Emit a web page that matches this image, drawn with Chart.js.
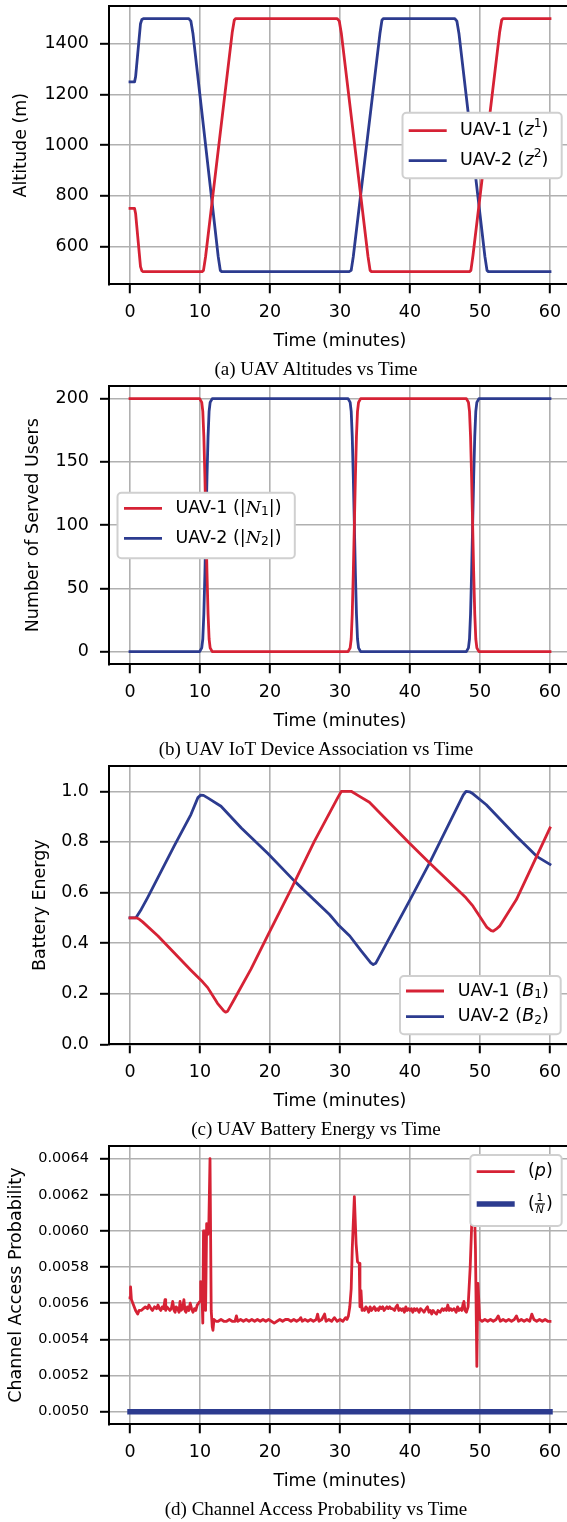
<!DOCTYPE html>
<html>
<head>
<meta charset="utf-8">
<script src="https://cdn.jsdelivr.net/npm/chart.js@4.4.1/dist/chart.umd.min.js"></script>
<style>
  html, body { margin: 0; padding: 0; background: #fff; }
  body { width: 567px; overflow: hidden; }
  .panel { position: relative; width: 567px; height: 380px; overflow: hidden; }
  .panel canvas { position: absolute; left: 0; top: 0; }
  .caption { position: absolute; left: 0; width: 632px; top: 358px; text-align: center;
             font: 19px "Liberation Serif", "Times New Roman", serif; line-height: 22px; color: #000; }
</style>
</head>
<body>
<div class="panel"><canvas id="chartA" width="580" height="380"></canvas><div class="caption">(a) UAV Altitudes vs Time</div></div>
<div class="panel"><canvas id="chartB" width="580" height="380"></canvas><div class="caption">(b) UAV IoT Device Association vs Time</div></div>
<div class="panel"><canvas id="chartC" width="580" height="380"></canvas><div class="caption">(c) UAV Battery Energy vs Time</div></div>
<div class="panel"><canvas id="chartD" width="580" height="380"></canvas><div class="caption">(d) Channel Access Probability vs Time</div></div>

<script>
// ---- Dados ----
const xTicks = [0, 10, 20, 30, 40, 50, 60];

// (a) altitudes
const alt1T = [0, 0.65, 0.8, 1.5, 1.7, 1.9, 10.3, 10.5, 10.8, 14.6, 14.9, 15.1, 29.6, 29.9, 30.2, 34.0, 34.3, 34.5, 48.5, 48.7, 49.0, 52.8, 53.1, 53.3, 60];
const alt1  = [750, 750, 730, 520, 503, 500, 500, 505, 560, 1445, 1495, 1500, 1500, 1490, 1440, 560, 505, 500, 500, 505, 565, 1445, 1495, 1500, 1500];
const alt2T = [0, 0.65, 0.8, 1.5, 1.7, 1.9, 8.4, 8.7, 9.0, 12.6, 12.9, 13.1, 31.3, 31.6, 31.9, 35.7, 36.0, 36.2, 46.4, 46.7, 47.0, 50.7, 51.0, 51.2, 60];
const alt2  = [1250, 1250, 1270, 1480, 1497, 1500, 1500, 1490, 1440, 560, 505, 500, 500, 505, 560, 1440, 1495, 1500, 1500, 1490, 1440, 560, 505, 500, 500];
const altTicks = [600, 800, 1000, 1200, 1400];

// (b) usuarios atendidos
const usersT = [0, 9.95, 10.25, 10.4, 10.55, 10.7, 10.85, 11.0, 11.15, 11.3, 11.45, 11.75,
                31.15, 31.45, 31.6, 31.75, 31.9, 32.05, 32.2, 32.35, 32.5, 32.65, 32.95,
                48.05, 48.35, 48.5, 48.65, 48.8, 48.95, 49.1, 49.25, 49.4, 49.55, 49.85, 60];
const users1 = [200, 200, 197, 190, 170, 138, 100, 62, 30, 10, 3, 0,
                0, 3, 10, 30, 62, 100, 138, 170, 190, 197, 200,
                200, 197, 190, 170, 138, 100, 62, 30, 10, 3, 0, 0];
const users2 = [0, 0, 3, 10, 30, 62, 100, 138, 170, 190, 197, 200,
                200, 197, 190, 170, 138, 100, 62, 30, 10, 3, 0,
                0, 3, 10, 30, 62, 100, 138, 170, 190, 197, 200, 200];
const usersTicks = [0, 50, 100, 150, 200];

// (c) bateria
const bat1T = [0, 0.85, 1.3, 1.8, 4.0, 6.3, 8.7, 10.4, 11.1, 12.5, 13.4, 13.65, 13.95, 14.9, 17.3, 19.7, 23.0, 26.3, 29.7, 30.2,
               31.6, 32.5, 34.2, 39.9, 42.8, 48.0, 49.0, 51.0, 51.6, 51.9, 52.3, 52.8, 55.2, 60.0];
const bat1  = [0.500, 0.500, 0.495, 0.484, 0.428, 0.362, 0.293, 0.246, 0.224, 0.162, 0.132, 0.127, 0.131, 0.178, 0.298, 0.432, 0.612, 0.800, 0.976, 1.0,
               1.0, 0.985, 0.957, 0.796, 0.717, 0.579, 0.546, 0.462, 0.449, 0.447, 0.455, 0.467, 0.572, 0.855];
const bat2T = [0, 0.85, 1.6, 2.5, 6.3, 8.7, 9.7, 10.1, 10.5, 11.1, 13.0, 15.9, 19.7, 23.5, 28.5, 29.7, 31.4, 33.0, 34.4, 34.75, 35.1,
               39.9, 42.8, 47.6, 48.0, 48.5, 49.0, 50.9, 55.2, 58.1, 60.0];
const bat2  = [0.5, 0.5, 0.533, 0.579, 0.783, 0.908, 0.975, 0.985, 0.984, 0.974, 0.941, 0.855, 0.754, 0.645, 0.513, 0.474, 0.428, 0.370, 0.322, 0.315, 0.320,
               0.566, 0.717, 0.985, 1.0, 0.998, 0.990, 0.947, 0.822, 0.743, 0.711];
const batTicks = [0.0, 0.2, 0.4, 0.6, 0.8, 1.0];

// (d) probabilidade de acesso ao canal
const probT = [
  0, 0.08, 0.2, 0.5, 0.8, 1.1, 1.3, 1.6, 1.9, 2.2,
  2.5, 2.7, 3.0, 3.2, 3.5, 3.8, 4.0, 4.2, 4.4, 4.6,
  4.8, 5.0, 5.1, 5.25, 5.5, 5.7, 5.9, 6.1, 6.3, 6.45,
  6.6, 6.8, 7.0, 7.15, 7.3, 7.5, 7.7, 7.85, 8.0, 8.2,
  8.4, 8.6, 8.8, 9.0, 9.2, 9.4, 9.6, 9.8, 10.0, 10.1,
  10.25, 10.4, 10.5, 10.65, 10.8, 10.95, 11.1, 11.25, 11.43, 11.6,
  11.75, 11.85, 12.0, 12.3, 12.6, 13.0, 13.4, 13.8, 14.2, 14.6,
  15.0, 15.2, 15.4, 15.8, 16.2, 16.6, 17.0, 17.4, 17.8, 18.2,
  18.6, 19.0, 19.4, 19.8, 20.2, 20.6, 21.0, 21.4, 21.8, 22.2,
  22.6, 23.0, 23.4, 23.8, 24.2, 24.4, 24.6, 25.0, 25.4, 25.8,
  26.2, 26.6, 26.8, 27.0, 27.4, 27.8, 28.0, 28.4, 28.8, 29.2,
  29.6, 30.0, 30.4, 30.8, 31.0, 31.2, 31.4, 31.6, 31.75, 32.05,
  32.3, 32.5, 32.75, 32.85, 33.0, 33.15, 33.3, 33.5, 33.7, 33.9,
  34.1, 34.3, 34.5, 34.7, 34.9, 35.1, 35.3, 35.5, 35.7, 35.9,
  36.1, 36.3, 36.5, 36.7, 36.9, 37.1, 37.3, 37.5, 37.8, 38.0,
  38.2, 38.4, 38.6, 38.8, 39.0, 39.2, 39.4, 39.6, 39.8, 40.0,
  40.2, 40.4, 40.6, 40.8, 41.0, 41.3, 41.5, 41.8, 42.0, 42.3,
  42.5, 42.7, 42.9, 43.1, 43.3, 43.5, 43.8, 44.0, 44.3, 44.6,
  44.8, 45.0, 45.2, 45.4, 45.6, 45.8, 46.0, 46.3, 46.6, 46.8,
  47.0, 47.2, 47.4, 47.6, 47.7, 47.85, 48.05, 48.3, 48.6, 48.8,
  49.0, 49.2, 49.35, 49.55, 49.7, 49.85, 49.95, 50.3, 50.7, 51.1,
  51.5, 51.9, 52.3, 52.6, 52.9, 53.3, 53.7, 54.1, 54.5, 54.9,
  55.2, 55.5, 55.9, 56.3, 56.7, 57.1, 57.4, 57.7, 58.1, 58.5,
  58.9, 59.3, 59.7, 60.0
];
const probVal = [
  0.00563, 0.00569, 0.00562, 0.00559, 0.00556, 0.00554, 0.00556, 0.00556, 0.00557, 0.00558,
  0.00557, 0.00559, 0.00557, 0.00556, 0.00558, 0.00557, 0.00559, 0.00557, 0.00556, 0.00558,
  0.00557, 0.00562, 0.00556, 0.00558, 0.00557, 0.00556, 0.00557, 0.00561, 0.00556, 0.00555,
  0.00558, 0.00557, 0.00555, 0.00561, 0.00556, 0.00557, 0.00562, 0.00556, 0.00555, 0.00558,
  0.00556, 0.00560, 0.00557, 0.00555, 0.00557, 0.00556, 0.00559, 0.00560, 0.00561, 0.00572,
  0.00570, 0.00549, 0.00600, 0.00600, 0.00556, 0.00604, 0.00598, 0.00601, 0.00640, 0.00556,
  0.00547, 0.00545, 0.00551, 0.00550, 0.00550, 0.00551, 0.00550, 0.00550, 0.00551, 0.00550,
  0.00550, 0.00553, 0.00550, 0.00551, 0.00550, 0.00551, 0.00550, 0.00551, 0.00550, 0.00551,
  0.00550, 0.00551, 0.00550, 0.00551, 0.00550, 0.00549, 0.00550, 0.00551, 0.00550, 0.00551,
  0.00551, 0.00550, 0.00551, 0.00550, 0.00551, 0.00552, 0.00550, 0.00551, 0.00550, 0.00551,
  0.00550, 0.00551, 0.00554, 0.00550, 0.00551, 0.00554, 0.00550, 0.00551, 0.00550, 0.00552,
  0.00550, 0.00551, 0.00550, 0.00552, 0.00551, 0.00553, 0.00558, 0.00568, 0.00590, 0.00619,
  0.00593, 0.00583, 0.00582, 0.00558, 0.00567, 0.00556, 0.00557, 0.00556, 0.00558, 0.00557,
  0.00555, 0.00558, 0.00556, 0.00557, 0.00558, 0.00556, 0.00557, 0.00556, 0.00558, 0.00557,
  0.00558, 0.00556, 0.00557, 0.00558, 0.00557, 0.00558, 0.00557, 0.00557, 0.00556, 0.00558,
  0.00559, 0.00556, 0.00557, 0.00556, 0.00557, 0.00555, 0.00558, 0.00556, 0.00557, 0.00556,
  0.00557, 0.00555, 0.00557, 0.00556, 0.00557, 0.00555, 0.00557, 0.00556, 0.00555, 0.00557,
  0.00558, 0.00555, 0.00556, 0.00554, 0.00556, 0.00555, 0.00554, 0.00556, 0.00555, 0.00557,
  0.00556, 0.00557, 0.00556, 0.00559, 0.00556, 0.00557, 0.00556, 0.00557, 0.00555, 0.00558,
  0.00556, 0.00557, 0.00556, 0.00560, 0.00561, 0.00556, 0.00555, 0.00558, 0.00580, 0.00602,
  0.00620, 0.00615, 0.00590, 0.00525, 0.00571, 0.00560, 0.00551, 0.00550, 0.00551, 0.00550,
  0.00551, 0.00550, 0.00551, 0.00553, 0.00550, 0.00551, 0.00550, 0.00551, 0.00550, 0.00551,
  0.00553, 0.00550, 0.00551, 0.00550, 0.00551, 0.00550, 0.00554, 0.00551, 0.00550, 0.00551,
  0.00550, 0.00551, 0.00550, 0.00550
];
const invNT = [0, 60];
const invN  = [0.005, 0.005];
const probTicks = [0.0050, 0.0052, 0.0054, 0.0056, 0.0058, 0.0060, 0.0062, 0.0064];

// ---- Estilo ----
const RED = '#d62235';
const BLUE = '#2c3b8f';
const GRID = '#b0b0b0';
const FONT = '"DejaVu Sans", sans-serif';
const SERIF = '"DejaVu Serif", serif';
const FS = 17.5;

// Junta dois arrays em pontos {x, y}
function pontos(xs, ys) {
    return xs.map((x, i) => ({ x: x, y: ys[i] }));
}

// Desenha texto com partes em italico, sobrescrito, subscrito e fracao
function textoRico(ctx, partes, x, y) {
    ctx.textBaseline = 'middle';
    ctx.textAlign = 'left';
    partes.forEach(p => {
        if (p.k === 'frac') {
            const fs = FS * 0.62;
            ctx.font = `${fs}px ${FONT}`;
            const w1 = ctx.measureText(p.num).width;
            ctx.font = `italic ${fs}px ${FONT}`;
            const w2 = ctx.measureText(p.den).width;
            const w = Math.max(w1, w2) + 2;
            ctx.font = `${fs}px ${FONT}`;
            ctx.fillText(p.num, x + (w - w1) / 2, y - 6);
            ctx.font = `italic ${fs}px ${FONT}`;
            ctx.fillText(p.den, x + (w - w2) / 2, y + 6);
            ctx.fillRect(x, y - 0.6, w, 1.2);
            x += w + 1;
            return;
        }
        let fs = FS, dy = 0;
        if (p.k === 'sup') { fs = FS * 0.7; dy = -6.5; }
        if (p.k === 'sub') { fs = FS * 0.7; dy = 4; }
        ctx.font = `${p.i ? 'italic ' : ''}${fs}px ${p.serif ? SERIF : FONT}`;
        ctx.fillText(p.t, x, y + dy);
        x += ctx.measureText(p.t).width;
    });
}

// Legenda no estilo matplotlib (caixa arredondada)
const legendaPlugin = {
    id: 'mplLegend',
    afterDraw(chart, args, opts) {
        if (!opts.box) return;
        const ctx = chart.ctx;
        const [bx, by, bw, bh] = opts.box;
        ctx.save();
        ctx.beginPath();
        ctx.roundRect(bx, by, bw, bh, 4);
        ctx.fillStyle = '#ffffff';
        ctx.fill();
        ctx.lineWidth = 2;
        ctx.strokeStyle = '#d0d0d0';
        ctx.stroke();
        chart.data.datasets.forEach((ds, i) => {
            const y = opts.rows[i];
            ctx.beginPath();
            ctx.strokeStyle = ds.borderColor;
            ctx.lineWidth = ds.borderWidth;
            ctx.lineCap = 'butt';
            ctx.moveTo(opts.lineX, y);
            ctx.lineTo(opts.lineX + 38, y);
            ctx.stroke();
            ctx.fillStyle = '#000';
            textoRico(ctx, ds.rotulo, opts.textX, y);
        });
        ctx.restore();
    }
};

// Moldura superior e direita do grafico
const molduraPlugin = {
    id: 'moldura',
    afterDatasetsDraw(chart) {
        const a = chart.chartArea;
        const ctx = chart.ctx;
        ctx.save();
        ctx.strokeStyle = '#000';
        ctx.lineWidth = 2;
        ctx.beginPath();
        ctx.moveTo(a.left - 1, a.top);
        ctx.lineTo(a.right, a.top);
        ctx.lineTo(a.right, a.bottom);
        ctx.stroke();
        ctx.restore();
    }
};

function eixoX() {
    return {
        type: 'linear',
        min: -3,
        max: 63,
        afterBuildTicks: s => { s.ticks = xTicks.map(v => ({ value: v })); },
        afterFit: s => { s.height = 67.9; s.paddingLeft = 0; s.paddingRight = 0; },
        grid: { color: GRID, lineWidth: 1.6, tickColor: '#000', tickWidth: 2, tickLength: 9 },
        border: { display: true, color: '#000', width: 2 },
        ticks: { color: '#000', font: { family: FONT, size: FS }, padding: 9, maxRotation: 0, autoSkip: false,
                 callback: v => String(v) },
        title: { display: true, text: 'Time (minutes)', color: '#000', font: { family: FONT, size: FS },
                 padding: { top: 0, bottom: 0 } }
    };
}

function eixoY(min, max, ticks, titulo, esquerda, casas, tamanho) {
    return {
        type: 'linear',
        min: min,
        max: max,
        afterBuildTicks: s => { s.ticks = ticks.map(v => ({ value: v })); },
        afterFit: s => { s.width = 109 - esquerda; s.paddingTop = 0; s.paddingBottom = 0; },
        grid: { color: GRID, lineWidth: 1.6, tickColor: '#000', tickWidth: 2, tickLength: 9 },
        border: { display: true, color: '#000', width: 2 },
        ticks: { color: '#000', font: { family: FONT, size: tamanho || FS }, padding: 11, autoSkip: false,
                 callback: v => v.toFixed(casas) },
        title: { display: true, text: titulo, color: '#000', font: { family: FONT, size: FS },
                 padding: { top: 0, bottom: 0 } }
    };
}

function serie(xs, ys, cor, largura, rotulo) {
    return {
        data: pontos(xs, ys),
        borderColor: cor,
        borderWidth: largura,
        pointRadius: 0,
        showLine: true,
        fill: false,
        tension: 0,
        borderJoinStyle: 'round',
        borderCapStyle: 'square',
        rotulo: rotulo
    };
}

function criarGrafico(id, datasets, escalaY, esquerda, legenda) {
    const ctx = document.getElementById(id).getContext('2d');
    return new Chart(ctx, {
        type: 'scatter',
        data: { datasets: datasets },
        options: {
            responsive: false,
            animation: false,
            events: [],
            layout: { padding: { left: esquerda, right: 9, top: 6, bottom: 27.8 } },
            scales: { x: eixoX(), y: escalaY },
            plugins: {
                legend: { display: false },
                tooltip: { enabled: false },
                mplLegend: legenda
            }
        },
        plugins: [molduraPlugin, legendaPlugin]
    });
}

// (a)
criarGrafico('chartA', [
    serie(alt1T, alt1, RED, 2.8, [{ t: 'UAV-1 (' }, { t: 'z', i: true }, { t: '1', k: 'sup' }, { t: ')' }]),
    serie(alt2T, alt2, BLUE, 2.8, [{ t: 'UAV-2 (' }, { t: 'z', i: true }, { t: '2', k: 'sup' }, { t: ')' }])
], eixoY(450, 1550, altTicks, 'Altitude (m)', 11.2, 0), 11.2,
   { box: [402.5, 112.7, 159.2, 65.6], lineX: 408.7, textX: 460, rows: [130.7, 160.7] });

// (b)
criarGrafico('chartB', [
    serie(usersT, users1, RED, 2.8, [{ t: 'UAV-1 (|' }, { t: 'N', i: true, serif: true }, { t: '1', k: 'sub' }, { t: '|)' }]),
    serie(usersT, users2, BLUE, 2.8, [{ t: 'UAV-2 (|' }, { t: 'N', i: true, serif: true }, { t: '2', k: 'sub' }, { t: '|)' }])
], eixoY(-10, 210, usersTicks, 'Number of Served Users', 23, 0), 23,
   { box: [117.5, 112.7, 177.3, 65.6], lineX: 124, textX: 175.4, rows: [128.3, 158.3] });

// (c)
criarGrafico('chartC', [
    serie(bat1T, bat1, RED, 2.8, [{ t: 'UAV-1 (' }, { t: 'B', i: true }, { t: '1', k: 'sub' }, { t: ')' }]),
    serie(bat2T, bat2, BLUE, 2.8, [{ t: 'UAV-2 (' }, { t: 'B', i: true }, { t: '2', k: 'sub' }, { t: ')' }])
], eixoY(0, 1.1, batTicks, 'Battery Energy', 29.5, 1), 29.5,
   { box: [400, 216, 160.7, 58.3], lineX: 406, textX: 457.7, rows: [231, 256.7] });

// (d)
criarGrafico('chartD', [
    serie(probT, probVal, RED, 2.8, [{ t: '(' }, { t: 'p', i: true }, { t: ')' }]),
    serie(invNT, invN, BLUE, 5.5, [{ t: '(' }, { k: 'frac', num: '1', den: 'N' }, { t: ')' }])
], eixoY(0.00493, 0.00647, probTicks, 'Channel Access Probability', 5.8, 4, 14.5), 5.8,
   { box: [470.3, 15, 91.4, 71], lineX: 476.7, textX: 528, rows: [31.7, 64] });
</script>
</body>
</html>
